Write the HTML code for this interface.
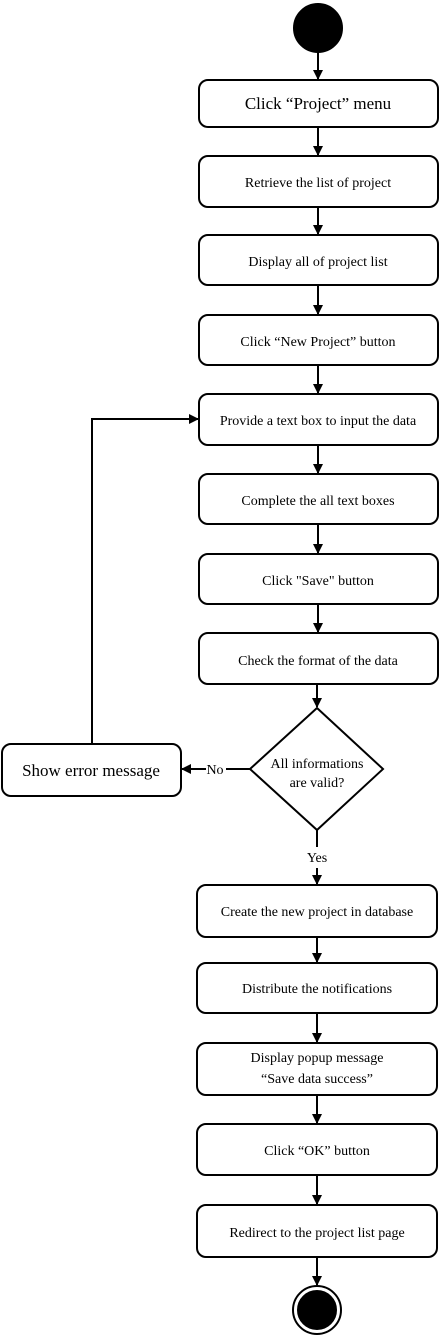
<!DOCTYPE html>
<html><head><style>body{margin:0;background:#fff}svg{display:block}text{font-family:"Liberation Serif",serif;fill:#000;font-weight:normal}</style></head><body>
<svg width="440" height="1339" viewBox="0 0 440 1339" xmlns="http://www.w3.org/2000/svg">
<defs><marker id="a" markerWidth="10" markerHeight="10" refX="9" refY="5" orient="auto" markerUnits="userSpaceOnUse"><path d="M0,0 L10,5 L0,10 z" fill="#000"/></marker></defs>
<g stroke="#000" stroke-width="2" fill="none">
<circle cx="318" cy="28" r="24" fill="#000"/>
<rect x="199" y="80" width="239" height="47" rx="9"/>
<rect x="199" y="156" width="239" height="51" rx="9"/>
<rect x="199" y="235" width="239" height="50" rx="9"/>
<rect x="199" y="315" width="239" height="50" rx="9"/>
<rect x="199" y="394" width="239" height="51" rx="9"/>
<rect x="199" y="474" width="239" height="50" rx="9"/>
<rect x="199" y="554" width="239" height="50" rx="9"/>
<rect x="199" y="633" width="239" height="51" rx="9"/>
<polygon points="317,708 383,769 317,830 250,769" fill="#fff"/>
<rect x="2" y="744" width="179" height="52" rx="9"/>
<rect x="197" y="885" width="240" height="52" rx="9"/>
<rect x="197" y="963" width="240" height="50" rx="9"/>
<rect x="197" y="1043" width="240" height="52" rx="9"/>
<rect x="197" y="1124" width="240" height="51" rx="9"/>
<rect x="197" y="1205" width="240" height="52" rx="9"/>
<circle cx="317" cy="1310" r="24"/>
<circle cx="317" cy="1310" r="19" fill="#000"/>
<g marker-end="url(#a)">
<line x1="318" y1="52" x2="318" y2="79"/>
<line x1="318" y1="127" x2="318" y2="155"/>
<line x1="318" y1="207" x2="318" y2="234"/>
<line x1="318" y1="285" x2="318" y2="314"/>
<line x1="318" y1="365" x2="318" y2="393"/>
<line x1="318" y1="445" x2="318" y2="473"/>
<line x1="318" y1="524" x2="318" y2="553"/>
<line x1="318" y1="604" x2="318" y2="632"/>
<line x1="317" y1="684" x2="317" y2="707"/>
<path d="M206,769 H182"/>
<path d="M92,744 V419 H198"/>
<path d="M317,868 V884"/>
<line x1="317" y1="937" x2="317" y2="962"/>
<line x1="317" y1="1013" x2="317" y2="1042"/>
<line x1="317" y1="1095" x2="317" y2="1123"/>
<line x1="317" y1="1175" x2="317" y2="1204"/>
<line x1="317" y1="1257" x2="317" y2="1285"/>
</g>
<line x1="250" y1="769" x2="226" y2="769"/>
<line x1="317" y1="830" x2="317" y2="847"/>
</g>
<g text-anchor="middle" font-size="14">
<text x="318" y="109" font-size="17">Click “Project” menu</text>
<text x="318" y="187">Retrieve the list of project</text>
<text x="318" y="266">Display all of project list</text>
<text x="318" y="346">Click “New Project” button</text>
<text x="318" y="425">Provide a text box to input the data</text>
<text x="318" y="505">Complete the all text boxes</text>
<text x="318" y="585">Click "Save" button</text>
<text x="318" y="665">Check the format of the  data</text>
<text x="317" y="768">All informations</text>
<text x="317" y="787">are valid?</text>
<text x="91" y="776" font-size="17">Show error message</text>
<text x="215" y="774">No</text>
<text x="317" y="862">Yes</text>
<text x="317" y="916">Create the new project in database</text>
<text x="317" y="993">Distribute the notifications</text>
<text x="317" y="1062">Display popup message</text>
<text x="317" y="1083">“Save data success”</text>
<text x="317" y="1155">Click “OK” button</text>
<text x="317" y="1237">Redirect to the project list page</text>
</g>
</svg>
</body></html>
